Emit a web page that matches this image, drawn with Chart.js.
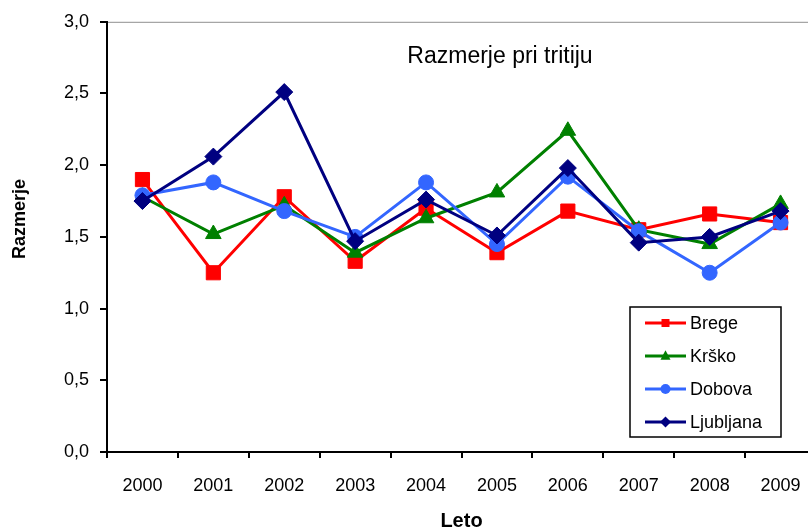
<!DOCTYPE html>
<html>
<head>
<meta charset="utf-8">
<script src="https://cdn.jsdelivr.net/npm/chart.js"></script>
<style>
  html, body { margin: 0; padding: 0; overflow: hidden; background: #fff; }
  #wrap { position: relative; width: 830px; height: 531px; }
</style>
</head>
<body>
<div id="wrap"><canvas id="chart"></canvas></div>
<script>
// podatki
const years = ['2000', '2001', '2002', '2003', '2004', '2005', '2006', '2007', '2008', '2009'];
const brege = [1.90, 1.25, 1.78, 1.33, 1.70, 1.39, 1.68, 1.55, 1.66, 1.60];
const krsko = [1.78, 1.52, 1.72, 1.39, 1.63, 1.81, 2.24, 1.55, 1.45, 1.73];
const dobova = [1.79, 1.88, 1.68, 1.50, 1.88, 1.45, 1.92, 1.54, 1.25, 1.60];
const ljubljana = [1.75, 2.06, 2.51, 1.47, 1.76, 1.51, 1.98, 1.46, 1.50, 1.68];
const yTicks = [0, 0.5, 1, 1.5, 2, 2.5, 3];

const FONT = "'Liberation Sans', Arial, Helvetica, sans-serif";
Chart.defaults.font.family = FONT;
Chart.defaults.color = '#000';

// ozadje okvir (siva zgornja crta)
const frame = {
    id: 'frame',
    beforeDraw(chart) {
        const { ctx, chartArea: a } = chart;
        ctx.save();
        ctx.strokeStyle = '#909090';
        ctx.lineWidth = 1;
        ctx.strokeRect(a.left + 0.5, a.top + 0.5, a.right - a.left, a.bottom - a.top);
        ctx.restore();
    }
};

function marker(ctx, style, x, y, r) {
    ctx.beginPath();
    if (style === 'rect') {
        ctx.rect(x - r, y - r, 2 * r, 2 * r);
    } else if (style === 'triangle') {
        ctx.moveTo(x, y - r * 1.15);
        ctx.lineTo(x + r, y + r * 0.75);
        ctx.lineTo(x - r, y + r * 0.75);
        ctx.closePath();
    } else if (style === 'circle') {
        ctx.arc(x, y, r, 0, Math.PI * 2);
    } else {
        ctx.moveTo(x, y - r);
        ctx.lineTo(x + r, y);
        ctx.lineTo(x, y + r);
        ctx.lineTo(x - r, y);
        ctx.closePath();
    }
    ctx.fill();
}

// naslov, y naslov in legenda
const extras = {
    id: 'extras',
    afterDraw(chart) {
        const { ctx } = chart;
        ctx.save();
        ctx.fillStyle = '#000';
        ctx.font = '23px ' + FONT;
        ctx.textAlign = 'center';
        ctx.textBaseline = 'middle';
        ctx.fillText('Razmerje pri tritiju', 500, 57);

        ctx.save();
        ctx.translate(20, 219);
        ctx.rotate(-Math.PI / 2);
        ctx.font = 'bold 18px ' + FONT;
        ctx.fillText('Razmerje', 0, 0);
        ctx.restore();

        // legenda
        const bx = 630, by = 307, bw = 151, bh = 130;
        ctx.fillStyle = '#fff';
        ctx.fillRect(bx, by, bw, bh);
        ctx.strokeStyle = '#000';
        ctx.lineWidth = 1.5;
        ctx.strokeRect(bx, by, bw, bh);
        const sizes = { rect: 4, triangle: 5, circle: 5, rectRot: 5.5 };
        chart.data.datasets.forEach((ds, i) => {
            const y = 323 + i * 33;
            ctx.strokeStyle = ds.borderColor;
            ctx.lineWidth = 3;
            ctx.beginPath();
            ctx.moveTo(645, y);
            ctx.lineTo(686, y);
            ctx.stroke();
            ctx.fillStyle = ds.borderColor;
            marker(ctx, ds.pointStyle, 665.5, y, sizes[ds.pointStyle]);
            ctx.fillStyle = '#000';
            ctx.font = '18px ' + FONT;
            ctx.textAlign = 'left';
            ctx.fillText(ds.label, 690, y + 1);
        });
        ctx.restore();
    }
};

new Chart(document.getElementById('chart'), {
    type: 'line',
    data: {
        labels: years,
        datasets: [
            { label: 'Brege', data: brege, borderColor: '#FF0000', backgroundColor: '#FF0000',
              pointStyle: 'rect', pointRadius: 10, order: 4 },
            { label: 'Krško', data: krsko, borderColor: '#008000', backgroundColor: '#008000',
              pointStyle: 'triangle', pointRadius: 9, order: 3 },
            { label: 'Dobova', data: dobova, borderColor: '#3366FF', backgroundColor: '#3366FF',
              pointStyle: 'circle', pointRadius: 7.5, order: 2 },
            { label: 'Ljubljana', data: ljubljana, borderColor: '#000080', backgroundColor: '#000080',
              pointStyle: 'rectRot', pointRadius: 8.5, order: 1 }
        ]
    },
    options: {
        responsive: true,
        maintainAspectRatio: false,
        animation: false,
        layout: { padding: { top: 18, right: 14, left: 0, bottom: 0 } },
        elements: {
            line: { borderWidth: 3, tension: 0 },
            point: { borderWidth: 1 }
        },
        plugins: {
            legend: { display: false },
            tooltip: { enabled: false }
        },
        scales: {
            x: {
                offset: true,
                grid: { display: true, offset: true, drawOnChartArea: false, drawTicks: true,
                        tickLength: 6, color: '#000', lineWidth: 2 },
                border: { color: '#000', width: 2 },
                ticks: { font: { size: 18 }, padding: 17, color: '#000', maxRotation: 0 },
                title: { display: true, text: 'Leto', font: { size: 20, weight: 'bold', lineHeight: 1 },
                         padding: 0, color: '#000' },
                afterFit(scale) { scale.height = 79; }
            },
            y: {
                min: 0,
                max: 3,
                afterBuildTicks(scale) { scale.ticks = yTicks.map(v => ({ value: v })); },
                grid: { display: true, drawOnChartArea: false, drawTicks: true,
                        tickLength: 7, color: '#000', lineWidth: 2 },
                border: { color: '#000', width: 2 },
                ticks: {
                    font: { size: 18 }, padding: 11, color: '#000',
                    callback: v => v.toFixed(1).replace('.', ',')
                },
                afterFit(scale) { scale.width = 107; }
            }
        }
    },
    plugins: [frame, extras]
});
</script>
</body>
</html>
